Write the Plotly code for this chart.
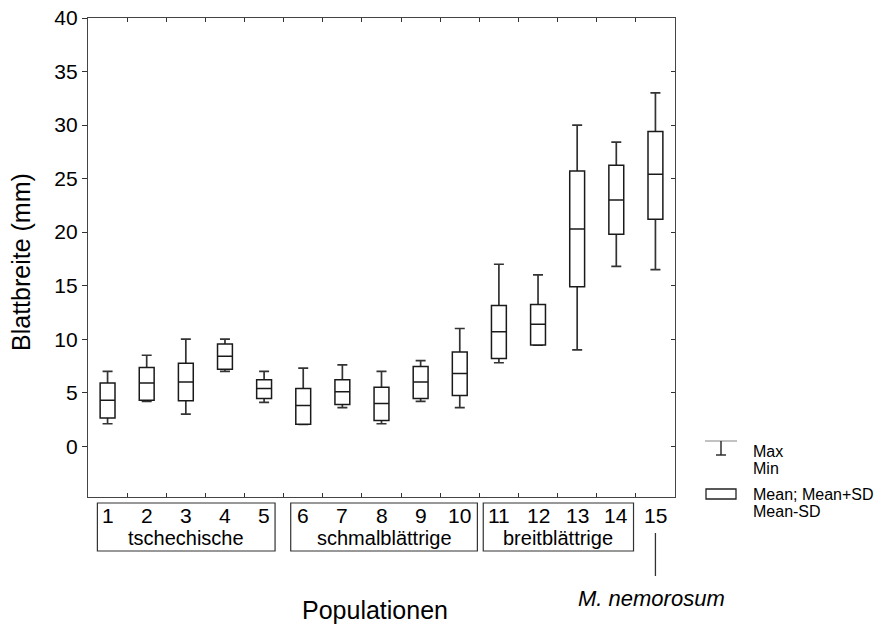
import plotly.graph_objects as go

# ---------------- data ----------------
populations = list(range(1, 16))
pop_labels = [str(i) for i in populations]
mean = [4.3, 5.9, 6.0, 8.4, 5.4, 3.8, 5.1, 4.0, 6.0, 6.8, 10.7, 11.4, 20.3, 23.0, 25.4]
mean_plus_sd = [5.9, 7.35, 7.75, 9.55, 6.2, 5.4, 6.2, 5.5, 7.45, 8.8, 13.15, 13.25, 25.7, 26.25, 29.4]
mean_minus_sd = [2.65, 4.3, 4.25, 7.2, 4.45, 2.05, 3.9, 2.4, 4.45, 4.75, 8.2, 9.45, 14.9, 19.8, 21.2]
max_vals = [7.0, 8.5, 10.0, 10.0, 7.0, 7.3, 7.6, 7.0, 8.0, 11.0, 17.0, 16.0, 30.0, 28.4, 33.0]
min_vals = [2.1, 4.2, 3.0, 7.0, 4.1, 2.05, 3.6, 2.1, 4.2, 3.6, 7.8, 9.45, 9.0, 16.8, 16.5]

group_names = ["tschechische", "schmalblättrige", "breitblättrige"]
group_first = [1, 6, 11]
group_last = [5, 10, 14]
outgroup_label = "M. nemorosum"
outgroup_pop = 15

y_ticks = [0, 5, 10, 15, 20, 25, 30, 35, 40]
y_title = "Blattbreite (mm)"
x_title = "Populationen"
legend_labels = [("Max", "Min"), ("Mean; Mean+SD", "Mean-SD")]

# ---------------- layout constants ----------------
W, H = 886, 629
L, R, T, B = 88, 675, 18, 497
FONT = "Liberation Sans, Arial, sans-serif"
INK = "#1a1a1a"


def pxx(px):
    return (px - L) / (R - L)


def pxy(py):
    return (B - py) / (B - T)


upper = [mx - m for mx, m in zip(max_vals, mean)]
lower = [m - mn for m, mn in zip(mean, min_vals)]

fig = go.Figure()

# whiskers (min / max) with caps, drawn below the boxes
fig.add_trace(go.Bar(
    x=populations, y=mean,
    marker=dict(color="rgba(0,0,0,0)", line=dict(width=0)),
    error_y=dict(type="data", symmetric=False, array=upper, arrayminus=lower,
                 width=5, thickness=1.7, color="#333"),
    hoverinfo="skip", showlegend=False,
))

# boxes: mean +/- SD with mean line
fig.add_trace(go.Box(
    x=populations, q1=mean_minus_sd, median=mean, q3=mean_plus_sd,
    lowerfence=mean_minus_sd, upperfence=mean_plus_sd,
    width=0.38, fillcolor="white", line=dict(color=INK, width=1.5),
    boxpoints=False, showlegend=False,
))

# invisible trace to anchor the right-hand tick axis
fig.add_trace(go.Scatter(x=[populations[0]], y=[mean[0]], yaxis="y2",
                         mode="markers", marker=dict(opacity=0),
                         hoverinfo="skip", showlegend=False))

yr = [-4.74, 40]
fig.update_layout(
    width=W, height=H,
    margin=dict(l=L, r=W - R, t=T, b=H - B),
    paper_bgcolor="white", plot_bgcolor="white",
    font=dict(family=FONT, color="black", size=21),
    xaxis=dict(range=[0.5, 15.5], tickvals=[p + 0.5 for p in populations[:-1]],
               ticks="inside", ticklen=4, tickcolor="#333", showticklabels=False,
               showline=True, linecolor="#444", linewidth=1.3, mirror="ticks",
               showgrid=False, zeroline=False, automargin=False),
    yaxis=dict(range=yr, tickvals=y_ticks, ticks="outside", ticklen=5,
               tickcolor="#333", showline=True, linecolor="#444", linewidth=1.3,
               mirror=True, showgrid=False, zeroline=False, automargin=False,
               tickfont=dict(size=21, family=FONT, color="black")),
    yaxis2=dict(range=yr, overlaying="y", side="right", tickvals=y_ticks,
                ticks="inside", ticklen=4, tickcolor="#333", showticklabels=False,
                showline=False, showgrid=False, zeroline=False, automargin=False),
    showlegend=False,
)

ann = []
shapes = []

# axis titles
ann.append(dict(text=y_title, textangle=-90, xref="paper", yref="paper",
                x=pxx(21), y=pxy(262), xanchor="center", yanchor="middle",
                showarrow=False, font=dict(size=25)))
ann.append(dict(text=x_title, xref="paper", yref="paper", x=pxx(375), y=pxy(610),
                xanchor="center", yanchor="middle", showarrow=False,
                font=dict(size=25)))

# population numbers
for p, lab in zip(populations, pop_labels):
    ann.append(dict(text=lab, xref="x", yref="paper", x=p, y=pxy(515),
                    xanchor="center", yanchor="middle", showarrow=False,
                    font=dict(size=21)))

# group boxes
pad_l = [0.26, 0.32, 0.40]
pad_r = [0.28, 0.45, 0.44]
for name, a, b, pl, pr in zip(group_names, group_first, group_last, pad_l, pad_r):
    shapes.append(dict(type="rect", xref="x", yref="paper", x0=a - pl, x1=b + pr,
                       y0=pxy(551), y1=pxy(503), line=dict(color="#333", width=1.2)))
    ann.append(dict(text=name, xref="x", yref="paper", x=(a - pl + b + pr) / 2,
                    y=pxy(538), xanchor="center", yanchor="middle", showarrow=False,
                    font=dict(size=20)))

# outgroup pointer
shapes.append(dict(type="line", xref="x", yref="paper", x0=outgroup_pop, x1=outgroup_pop,
                   y0=pxy(576), y1=pxy(533), line=dict(color="#333", width=1.3)))
ann.append(dict(text="<i>" + outgroup_label + "</i>", xref="x", yref="paper",
                x=outgroup_pop - 0.1, y=pxy(598), xanchor="center", yanchor="middle",
                showarrow=False, font=dict(size=22)))

# legend glyphs
shapes.append(dict(type="line", xref="paper", yref="paper", x0=pxx(705), x1=pxx(737),
                   y0=pxy(441), y1=pxy(441), line=dict(color="#999", width=1.2)))
shapes.append(dict(type="line", xref="paper", yref="paper", x0=pxx(721), x1=pxx(721),
                   y0=pxy(441), y1=pxy(455), line=dict(color="#222", width=1.4)))
shapes.append(dict(type="line", xref="paper", yref="paper", x0=pxx(716), x1=pxx(726),
                   y0=pxy(455), y1=pxy(455), line=dict(color="#222", width=1.4)))
shapes.append(dict(type="rect", xref="paper", yref="paper", x0=pxx(706), x1=pxx(736),
                   y0=pxy(499), y1=pxy(489), line=dict(color="#222", width=1.3)))
leg_y = [(451, 468), (494, 511)]
for (t1, t2), (y1, y2) in zip(legend_labels, leg_y):
    for t, yy in ((t1, y1), (t2, y2)):
        ann.append(dict(text=t, xref="paper", yref="paper", x=pxx(751), y=pxy(yy),
                        xanchor="left", yanchor="middle", showarrow=False,
                        font=dict(size=16)))

fig.update_layout(annotations=ann, shapes=shapes)
fig.write_html("out.html", config={"displayModeBar": False},
               post_script="document.body.style.margin='0';document.body.style.padding='0';")
